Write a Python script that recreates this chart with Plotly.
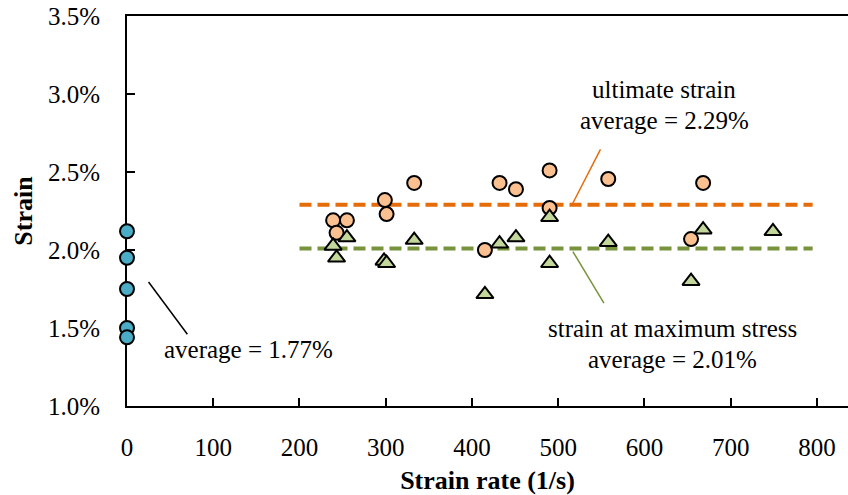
import plotly.graph_objects as go

# Quasi-static tests (strain rate ~ 0)
static_rate = [0, 0, 0, 0, 0]
static_strain = [2.12, 1.95, 1.75, 1.50, 1.44]

# Dynamic tests: ultimate strain
ult_rate = [239, 255, 243, 299, 301, 333, 432, 451, 415, 490, 490, 558, 668, 654]
ult_strain = [2.19, 2.19, 2.11, 2.32, 2.23, 2.43, 2.43, 2.39, 2.00, 2.51, 2.27, 2.455, 2.43, 2.07]

# Dynamic tests: strain at maximum stress
max_rate = [239, 255, 243, 298, 301, 333, 415, 432, 451, 490, 490, 558, 654, 668, 749]
max_strain = [2.026, 2.08, 1.95, 1.93, 1.915, 2.064, 1.716, 2.04, 2.08, 2.21, 1.915, 2.05, 1.80, 2.13, 2.12]

# Averages
static_avg = 1.77
ult_avg = 2.29
max_avg = 2.01
avg_span = [200, 795]

x_ticks = [0, 100, 200, 300, 400, 500, 600, 700, 800]

FONT = "Liberation Serif, Times New Roman, serif"
ORANGE = "#E46C0A"
GREEN = "#77933C"

fig = go.Figure()

fig.add_trace(go.Scatter(
    x=avg_span, y=[ult_avg, ult_avg], mode="lines",
    line=dict(color=ORANGE, width=4, dash="12px,6px"), hoverinfo="skip"))
fig.add_trace(go.Scatter(
    x=avg_span, y=[max_avg, max_avg], mode="lines",
    line=dict(color=GREEN, width=4, dash="12px,6px"), hoverinfo="skip"))

fig.add_trace(go.Scatter(
    x=ult_rate, y=ult_strain, mode="markers", name="ultimate strain",
    marker=dict(symbol="circle", size=14, color="#FAC090",
                line=dict(color="black", width=2))))
fig.add_trace(go.Scatter(
    x=max_rate, y=max_strain, mode="markers", name="strain at maximum stress",
    marker=dict(symbol="triangle-up", size=15, color="#C3D69B",
                line=dict(color="black", width=2))))
fig.add_trace(go.Scatter(
    x=static_rate, y=static_strain, mode="markers", name="static",
    marker=dict(symbol="circle", size=14, color="#4BACC6",
                line=dict(color="black", width=2)), cliponaxis=False))

# Leader lines from labels to the averages
fig.add_shape(type="line", xref="x", yref="y", x0=516, y0=ult_avg, x1=549, y1=2.645,
              line=dict(color=ORANGE, width=1.5))
fig.add_shape(type="line", xref="x", yref="y", x0=517, y0=1.99, x1=553, y1=1.66,
              line=dict(color=GREEN, width=1.5))
fig.add_shape(type="line", xref="x", yref="y", x0=25, y0=1.795, x1=70, y1=1.46,
              line=dict(color="black", width=1.5))

label_font = dict(family=FONT, size=25, color="black")
fig.add_annotation(x=623, y=3.032, xref="x", yref="y", text="ultimate strain",
                   showarrow=False, font=label_font, xanchor="center", yanchor="middle")
fig.add_annotation(x=623, y=2.827, xref="x", yref="y", text=f"average = {ult_avg:.2f}%",
                   showarrow=False, font=label_font, xanchor="center", yanchor="middle")
fig.add_annotation(x=632, y=1.50, xref="x", yref="y", text="strain at maximum stress",
                   showarrow=False, font=label_font, xanchor="center", yanchor="middle")
fig.add_annotation(x=632, y=1.297, xref="x", yref="y", text=f"average = {max_avg:.2f}%",
                   showarrow=False, font=label_font, xanchor="center", yanchor="middle")
fig.add_annotation(x=40.6, y=1.36, xref="x", yref="y", text=f"average = {static_avg:.2f}%",
                   showarrow=False, font=label_font, xanchor="left", yanchor="middle")

fig.update_layout(
    width=848, height=495,
    margin=dict(l=127, r=0, t=16, b=89),
    paper_bgcolor="white", plot_bgcolor="white",
    showlegend=False,
    font=dict(family=FONT, color="black"),
    xaxis=dict(
        range=[0, 836], tickvals=x_ticks, ticks="inside", ticklen=8, tickwidth=2,
        tickcolor="black", showline=True, linecolor="black", linewidth=2, mirror=True,
        showgrid=False, zeroline=False, layer="below traces",
        tickfont=dict(family=FONT, size=25, color="black"), ticklabelstandoff=18,
        title=dict(text="<b>Strain rate (1/s)</b>", standoff=12,
                   font=dict(family=FONT, size=26, color="black"))),
    yaxis=dict(
        range=[1.0, 3.5], dtick=0.5, tick0=1.0, tickformat=".1f", ticksuffix="%",
        ticks="inside", ticklen=8, tickwidth=2, tickcolor="black",
        showline=True, linecolor="black", linewidth=2,
        showgrid=False, zeroline=False, layer="below traces",
        tickfont=dict(family=FONT, size=25, color="black"), ticklabelstandoff=20,
        title=dict(text="<b>Strain</b>", standoff=8,
                   font=dict(family=FONT, size=26, color="black"))),
)

fig.write_html("out.html")
